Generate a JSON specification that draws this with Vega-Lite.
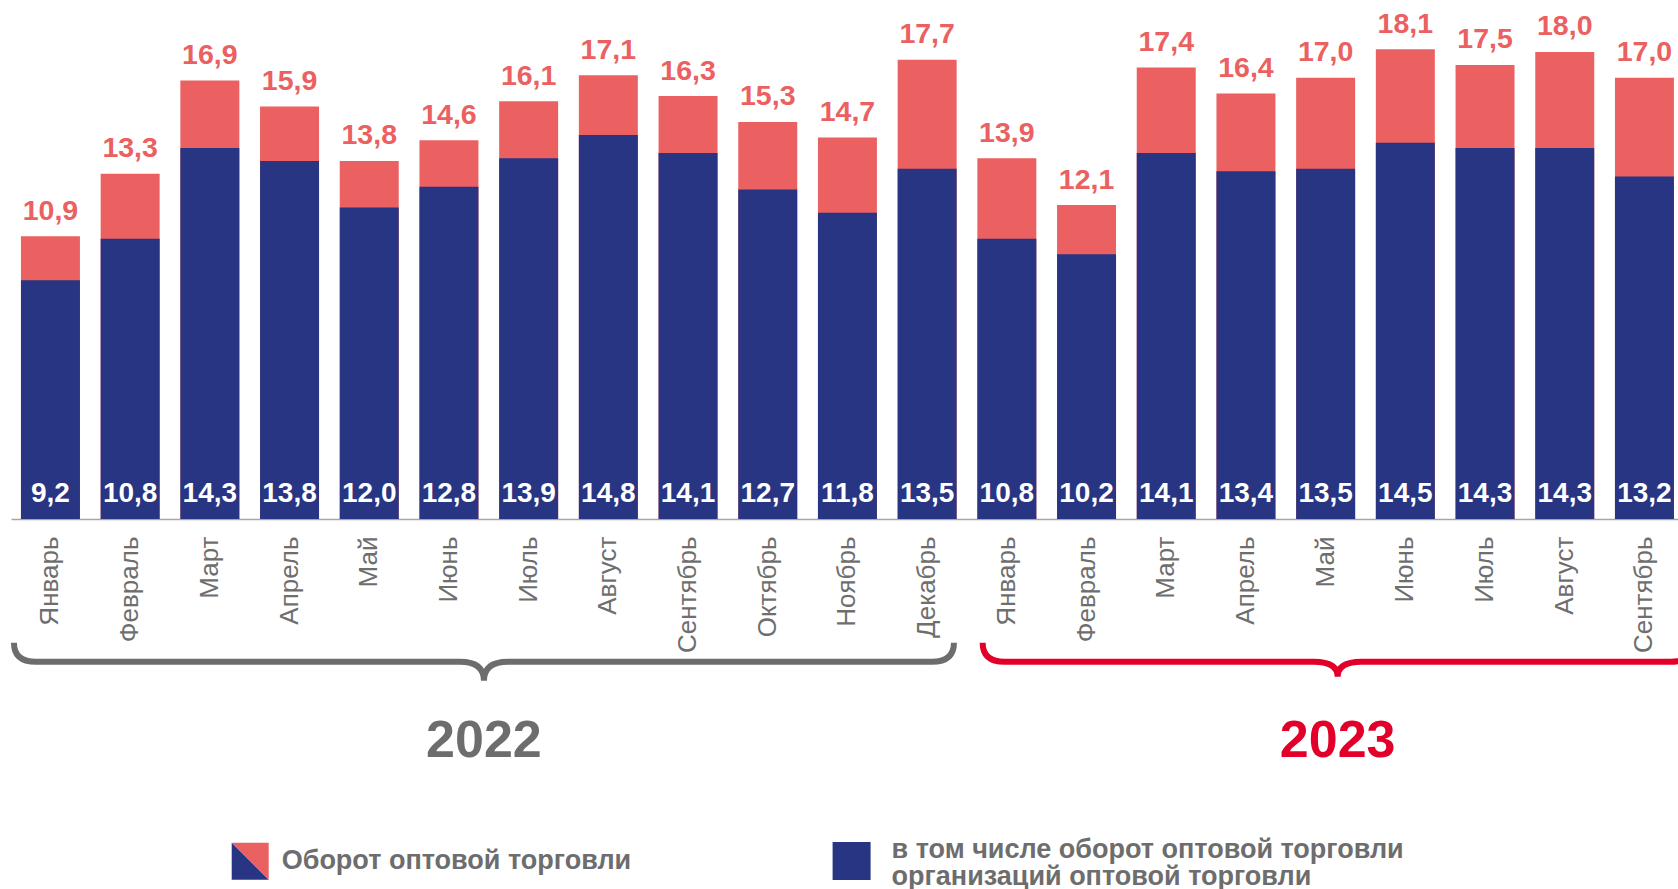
{
  "$schema": "https://vega.github.io/schema/vega-lite/v6.json",
  "width": 1667,
  "height": 519,
  "autosize": {"type": "none"},
  "padding": {"left": 11, "top": 0, "right": 0, "bottom": 370},
  "background": "white",
  "config": {
    "view": {"stroke": null},
    "font": "Liberation Sans",
    "locale": {"number": {"decimal": ",", "thousands": " ", "grouping": [3], "currency": ["", " ₽"]}}
  },
  "data": {
    "values": [
      {"key": "2022 Январь", "total": 10.9, "part": 9.2},
      {"key": "2022 Февраль", "total": 13.3, "part": 10.8},
      {"key": "2022 Март", "total": 16.9, "part": 14.3},
      {"key": "2022 Апрель", "total": 15.9, "part": 13.8},
      {"key": "2022 Май", "total": 13.8, "part": 12.0},
      {"key": "2022 Июнь", "total": 14.6, "part": 12.8},
      {"key": "2022 Июль", "total": 16.1, "part": 13.9},
      {"key": "2022 Август", "total": 17.1, "part": 14.8},
      {"key": "2022 Сентябрь", "total": 16.3, "part": 14.1},
      {"key": "2022 Октябрь", "total": 15.3, "part": 12.7},
      {"key": "2022 Ноябрь", "total": 14.7, "part": 11.8},
      {"key": "2022 Декабрь", "total": 17.7, "part": 13.5},
      {"key": "2023 Январь", "total": 13.9, "part": 10.8},
      {"key": "2023 Февраль", "total": 12.1, "part": 10.2},
      {"key": "2023 Март", "total": 17.4, "part": 14.1},
      {"key": "2023 Апрель", "total": 16.4, "part": 13.4},
      {"key": "2023 Май", "total": 17.0, "part": 13.5},
      {"key": "2023 Июнь", "total": 18.1, "part": 14.5},
      {"key": "2023 Июль", "total": 17.5, "part": 14.3},
      {"key": "2023 Август", "total": 18.0, "part": 14.3},
      {"key": "2023 Сентябрь", "total": 17.0, "part": 13.2}
    ]
  },
  "encoding": {
    "x": {
      "field": "key",
      "type": "nominal",
      "title": null,
      "scale": {
        "domain": ["2022 Январь", "2022 Февраль", "2022 Март", "2022 Апрель", "2022 Май", "2022 Июнь", "2022 Июль", "2022 Август", "2022 Сентябрь", "2022 Октябрь", "2022 Ноябрь", "2022 Декабрь", "2023 Январь", "2023 Февраль", "2023 Март", "2023 Апрель", "2023 Май", "2023 Июнь", "2023 Июль", "2023 Август", "2023 Сентябрь"],
        "paddingInner": 0.26,
        "paddingOuter": 0.088,
        "align": 0.71
      },
      "axis": {
        "labelAngle": -90,
        "labelFont": "Liberation Sans",
        "labelFontSize": 26,
        "labelColor": "#6e6e6e",
        "labelPadding": 17,
        "ticks": false,
        "tickSize": 0,
        "domainColor": "#a6a6a6",
        "domainWidth": 1.5,
        "labelLimit": 400,
        "labelOverlap": false,
        "grid": false,
        "labelExpr": "split(datum.label, ' ')[1]"
      }
    }
  },
  "resolve": {"scale": {"opacity": "independent"}, "legend": {"opacity": "independent"}},
  "layer": [
    {
      "mark": {"type": "bar"},
      "encoding": {
        "y": {"field": "total", "type": "quantitative", "scale": {"domain": [0, 20]}, "axis": null, "title": null},
        "color": {
          "datum": "Оборот оптовой торговли",
          "type": "nominal",
          "scale": {
            "domain": ["Оборот оптовой торговли", "в том числе оборот оптовой торговли организаций оптовой торговли"],
            "range": ["#EB6060", "#283583"]
          },
          "legend": null
        },
        "opacity": {
          "datum": "Оборот оптовой торговли",
          "type": "ordinal",
          "scale": {"domain": ["Оборот оптовой торговли"], "range": [1]},
          "legend": {
            "orient": "none",
            "legendX": 220.7,
            "legendY": 842.7,
            "title": null,
            "symbolType": "square",
            "symbolSize": 1369,
            "symbolStrokeWidth": 0,
            "symbolOpacity": 1,
            "labelFont": "Liberation Sans",
            "labelFontSize": 27,
            "labelFontWeight": "bold",
            "labelColor": "#6d6d6d",
            "labelOffset": 13,
            "labelLimit": 1000,
            "padding": 0,
            "encoding": {
              "symbols": {
                "fill": {"value": {"gradient": "linear", "x1": 0, "y1": 1, "x2": 1, "y2": 0, "stops": [{"offset": 0, "color": "#283583"}, {"offset": 0.5, "color": "#283583"}, {"offset": 0.5, "color": "#EB6060"}, {"offset": 1, "color": "#EB6060"}]}}
              }
            }
          }
        }
      }
    },
    {
      "mark": {"type": "bar"},
      "encoding": {
        "y": {"field": "part", "type": "quantitative"},
        "color": {"datum": "в том числе оборот оптовой торговли организаций оптовой торговли", "type": "nominal", "legend": null},
        "opacity": {
          "datum": "в том числе оборот оптовой торговли организаций оптовой торговли",
          "type": "ordinal",
          "scale": {"domain": ["в том числе оборот оптовой торговли организаций оптовой торговли"], "range": [1]},
          "legend": {
            "orient": "none",
            "legendX": 821.6,
            "legendY": 842,
            "title": null,
            "symbolType": "square",
            "symbolSize": 1444,
            "symbolStrokeWidth": 0,
            "symbolOpacity": 1,
            "labelFont": "Liberation Sans",
            "labelFontSize": 27,
            "labelFontWeight": "bold",
            "labelColor": "#6d6d6d",
            "labelOffset": 21,
            "labelLimit": 1000,
            "padding": 0,
            "labelExpr": "['в том числе оборот оптовой торговли', 'организаций оптовой торговли']",
            "encoding": {
              "symbols": {
                "fill": {"value": "#283583"}
              },
              "labels": {
                "dy": {"value": -11},
                "lineHeight": {"value": 26.5}
              }
            }
          }
        }
      }
    },
    {
      "mark": {"type": "text", "font": "Liberation Sans", "fontSize": 28.5, "fontWeight": "bold", "color": "#EB6060", "baseline": "alphabetic", "dy": -16.5},
      "encoding": {
        "y": {"field": "total", "type": "quantitative"},
        "text": {"field": "total", "type": "quantitative", "format": ".1f"}
      }
    },
    {
      "mark": {"type": "text", "font": "Liberation Sans", "fontSize": 28, "fontWeight": "bold", "color": "white", "baseline": "alphabetic", "dy": -17.3},
      "encoding": {
        "y": {"datum": 0, "type": "quantitative"},
        "text": {"field": "part", "type": "quantitative", "format": ".1f"}
      }
    },
    {
      "data": {"values": [{"year": "2022"}]},
      "layer": [
        {
          "mark": {"type": "point", "shape": "M-470,-19 Q-470,0 -448,0 L-24,0 Q0,0 0,19 Q0,0 24,0 L448,0 Q470,0 470,-19", "size": 4, "filled": false, "stroke": "#6d6d6d", "strokeWidth": 6, "opacity": 1, "xOffset": 35},
          "encoding": {
            "x": {"datum": "2022 Июнь", "type": "nominal"},
            "y": {"datum": -5.5, "type": "quantitative"}
          }
        },
        {
          "mark": {"type": "text", "font": "Liberation Sans", "fontSize": 52, "fontWeight": "bold", "color": "#6d6d6d", "baseline": "alphabetic", "xOffset": 35},
          "encoding": {
            "x": {"datum": "2022 Июнь", "type": "nominal"},
            "y": {"datum": -9.17, "type": "quantitative"},
            "text": {"field": "year", "type": "nominal"}
          }
        }
      ]
    },
    {
      "data": {"values": [{"year": "2023"}]},
      "layer": [
        {
          "mark": {"type": "point", "shape": "M-355,-19 Q-355,0 -333,0 L-24,0 Q0,0 0,15 Q0,0 24,0 L333,0 Q355,0 355,-19", "size": 4, "filled": false, "stroke": "#E2002B", "strokeWidth": 6, "opacity": 1, "xOffset": 12},
          "encoding": {
            "x": {"datum": "2023 Май", "type": "nominal"},
            "y": {"datum": -5.5, "type": "quantitative"}
          }
        },
        {
          "mark": {"type": "text", "font": "Liberation Sans", "fontSize": 52, "fontWeight": "bold", "color": "#E2002B", "baseline": "alphabetic", "xOffset": 12},
          "encoding": {
            "x": {"datum": "2023 Май", "type": "nominal"},
            "y": {"datum": -9.17, "type": "quantitative"},
            "text": {"field": "year", "type": "nominal"}
          }
        }
      ]
    }
  ]
}
